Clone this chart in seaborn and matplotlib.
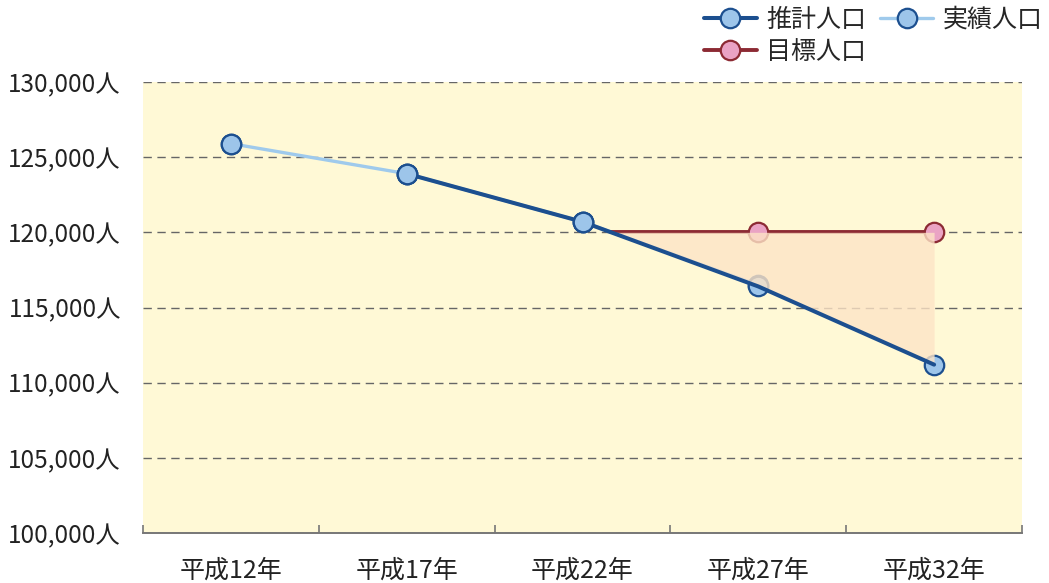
import numpy as np
import pandas as pd
import matplotlib
matplotlib.use("Agg")
import matplotlib.pyplot as plt
import seaborn as sns

# data
years = ["平成12年", "平成17年", "平成22年", "平成27年", "平成32年"]
estimate = [np.nan, 123900, 120700, 116400, 111200]   # 推計人口
actual = [125900, 123900, 120700, 116500, np.nan]     # 実績人口
target_value = 120000                                 # 目標人口
target_years = ["平成27年", "平成32年"]
y_ticks = [100000, 105000, 110000, 115000, 120000, 125000, 130000]

sns.set_theme(style="white")
plt.rcParams["font.family"] = ["Noto Sans CJK JP", "DejaVu Sans"]

DARK = "#1c4f8f"
LIGHT = "#9fcaec"
FACE = "#9dc5ea"
T_LINE = "#8c2a33"
T_FACE = "#eaa3c4"

fig = plt.figure(figsize=(10.49, 5.83), dpi=100)
ax = fig.add_axes([143 / 1049, 1 - 533 / 583, 879 / 1049, 451 / 583])
ax.set_facecolor("#fff9d6")

pos = np.arange(len(years))
df = pd.DataFrame({"pos": pos, "estimate": estimate, "actual": actual})
act = df.dropna(subset=["actual"])
est = df.dropna(subset=["estimate"])

mk = dict(marker="o", markersize=14, markeredgewidth=1.6, markeredgecolor=DARK,
          markerfacecolor=FACE)

# 実績人口 line + markers (under the shaded gap)
sns.lineplot(data=act, x="pos", y="actual", ax=ax, color=LIGHT, linewidth=2.4,
             label="実績人口", zorder=3, **mk)
# 推計人口 markers under the shading, line above it
sns.lineplot(data=est, x="pos", y="estimate", ax=ax, color=DARK, linewidth=0,
             zorder=4, legend=False, **mk)
sns.lineplot(data=est, x="pos", y="estimate", ax=ax, color=DARK, linewidth=2.9,
             zorder=7, legend=False)
# markers outside the shaded area stay on top of the line
front = df[df["pos"] <= years.index("平成22年")]
sns.lineplot(data=front, x="pos", y="actual", ax=ax, color=DARK, linewidth=0,
             zorder=8, legend=False, **mk)

# 目標人口 starts where the estimate drops below the target
i2, i3 = years.index("平成22年"), years.index("平成27年")
cross = i2 + (estimate[i2] - target_value) / (estimate[i2] - estimate[i3])
t_pos = [cross] + [years.index(y) for y in target_years]
t_df = pd.DataFrame({"pos": t_pos, "val": [target_value] * len(t_pos)})
sns.lineplot(data=t_df, x="pos", y="val", ax=ax, color=T_LINE, linewidth=2.8,
             marker="o", markersize=14, markeredgewidth=1.6, markeredgecolor=T_LINE,
             markerfacecolor=T_FACE, markevery=[1, 2], label="目標人口", zorder=5)

# gap between target and estimate
est_on_t = [target_value] + [estimate[years.index(y)] for y in target_years]
ax.fill_between(t_pos, [target_value] * len(t_pos), est_on_t,
                color="#fde4c6", alpha=0.8, linewidth=0, zorder=6)

# axes formatting
ax.set_xlim(-0.5, len(years) - 0.5)
ax.set_ylim(y_ticks[0], y_ticks[-1])
ax.set_xticks(pos)
ax.set_xticklabels(years, fontsize=18, color="#222222")
ax.set_xticks(np.arange(-0.5, len(years)), minor=True)
ax.tick_params(axis="x", which="major", length=0, pad=18)
ax.tick_params(axis="x", which="minor", direction="in", length=6, width=1.2,
               color="#777777", bottom=True)
ax.set_yticks(y_ticks)
ax.set_yticklabels([f"{v:,}人" for v in y_ticks], fontsize=17.5, color="#222222")
ax.tick_params(axis="y", length=0, pad=16)
ax.set_xlabel("")
ax.set_ylabel("")

ax.yaxis.grid(True, color="#666666", linestyle=(0, (6, 4)), linewidth=1.0)
ax.set_axisbelow(True)
for s in ["top", "right", "left"]:
    ax.spines[s].set_visible(False)
ax.spines["bottom"].set_color("#777777")
ax.spines["bottom"].set_linewidth(1.4)
ax.spines["bottom"].set_zorder(9)

# legend: 推計 / 実績 on the first row, 目標 below
leg_est = plt.Line2D([], [], color=DARK, linewidth=2.9, **mk)
handles, labels = ax.get_legend_handles_labels()
hmap = dict(zip(labels, handles))
hmap["推計人口"] = leg_est
order = ["推計人口", "目標人口", "実績人口"]
ax.legend([hmap[l] for l in order], order, ncol=2,
          loc="upper right", bbox_to_anchor=(1054 / 1049, 1.008), bbox_transform=fig.transFigure,
          frameon=False, fontsize=18, handlelength=2.1, handletextpad=0.4,
          columnspacing=0.55, labelspacing=0.25, borderaxespad=0.05)

fig.savefig("out.png", dpi=100, facecolor="white")
